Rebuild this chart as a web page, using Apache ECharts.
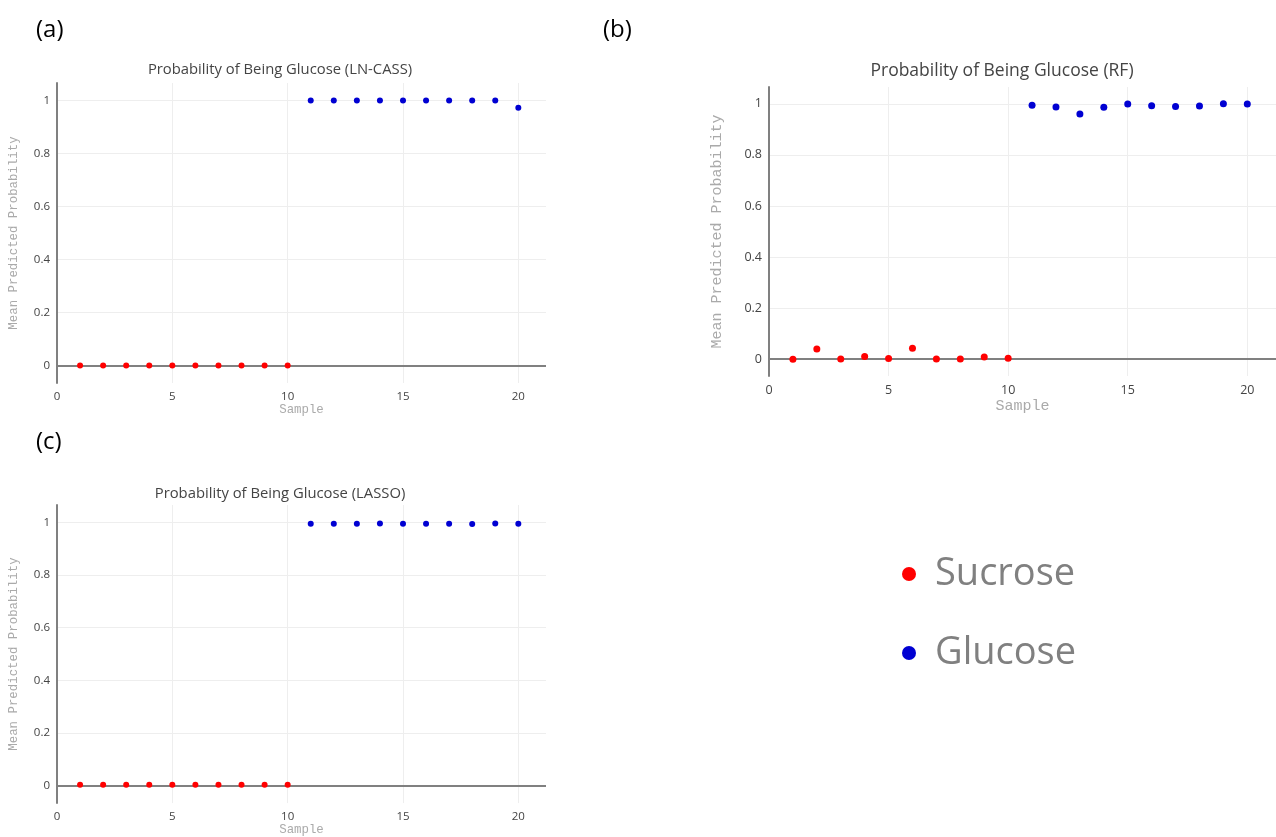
<!DOCTYPE html>
<html>
<head>
<meta charset="utf-8">
<title>Probability of Being Glucose</title>
<script src="https://cdn.jsdelivr.net/npm/echarts@6/dist/echarts.min.js"></script>
<style>
	html, body { margin: 0; padding: 0; background: #fff; }
	#main { width: 1276px; height: 837px; }
</style>
</head>
<body>
<div id="main"></div>
<script>
// sample numbers
var sucroseX = [1, 2, 3, 4, 5, 6, 7, 8, 9, 10];
var glucoseX = [11, 12, 13, 14, 15, 16, 17, 18, 19, 20];

// mean predicted probability
var lnSucrose = [0, 0, 0, 0, 0, 0, 0, 0, 0, 0];
var lnGlucose = [1, 1, 1, 1, 1, 1, 1, 1, 1, 0.973];
var rfSucrose = [0, 0.04, 0.001, 0.01, 0.003, 0.043, 0.001, 0.001, 0.008, 0.004];
var rfGlucose = [0.995, 0.988, 0.96, 0.987, 0.999, 0.993, 0.99, 0.992, 1, 0.999];
var lassoSucrose = [0.004, 0.004, 0.004, 0.004, 0.004, 0.004, 0.004, 0.004, 0.004, 0.004];
var lassoGlucose = [0.995, 0.995, 0.995, 0.996, 0.995, 0.995, 0.995, 0.994, 0.996, 0.995];

var yTicks = [0, 0.2, 0.4, 0.6, 0.8, 1];
var panelTitles = ['Probability of Being Glucose (LN-CASS)', 'Probability of Being Glucose (RF)', 'Probability of Being Glucose (LASSO)'];
var panelLabels = ['(a)', '(b)', '(c)'];
var legendNames = ['Sucrose', 'Glucose'];

var red = '#ff0000';
var blue = '#0000d2';

function pairs(xs, ys) {
	var arr = [];
	for (var i = 0; i < xs.length; i++) {
		arr.push([xs[i], ys[i]]);
	}
	return arr;
}

var grids = [
	{ left: 57, top: 83, width: 489, height: 300 },
	{ left: 769, top: 87, width: 518, height: 289 },
	{ left: 57, top: 505, width: 489, height: 301 }
];
// panel (b) was pasted in a bit bigger, so its fonts are bigger too
var look = [
	{ titleX: 275, titleY: 57, titleSize: 14.8, tick: 11.5, nameSize: 12.4, yGap: 37, xGap: 19 },
	{ titleX: 997, titleY: 57, titleSize: 17.5, tick: 12.5, nameSize: 15, yGap: 44, xGap: 23 },
	{ titleX: 275, titleY: 481, titleSize: 14.8, tick: 11.5, nameSize: 12.4, yGap: 37, xGap: 17 }
];
var labelPos = [
	{ x: 31, y: 13 },
	{ x: 598, y: 13 },
	{ x: 31, y: 425 }
];

var titles = [];
var xAxes = [];
var yAxes = [];
for (var i = 0; i < 3; i++) {
	titles.push({
		text: panelTitles[i],
		left: look[i].titleX,
		top: look[i].titleY,
		textAlign: 'center',
		textStyle: { fontFamily: 'Open Sans', fontSize: look[i].titleSize, fontWeight: 'normal', color: '#444' }
	});
	titles.push({
		text: panelLabels[i],
		left: labelPos[i].x,
		top: labelPos[i].y,
		textStyle: { fontFamily: 'Open Sans', fontSize: 24, fontWeight: 'normal', color: '#000' }
	});
	xAxes.push({
		gridIndex: i,
		type: 'value',
		min: 0,
		max: 21.2,
		interval: 5,
		name: 'Sample',
		nameLocation: 'middle',
		nameGap: look[i].xGap,
		nameTextStyle: { fontFamily: 'Liberation Mono', fontSize: look[i].nameSize, color: '#aaa' },
		axisLine: { show: false, onZero: false },
		axisTick: { show: false },
		axisLabel: { showMaxLabel: false, margin: 8, fontFamily: 'Open Sans', fontSize: look[i].tick, color: '#444' },
		splitLine: { show: true, showMaxLine: false, lineStyle: { color: '#eee', width: 1 } }
	});
	yAxes.push({
		gridIndex: i,
		type: 'value',
		min: -0.066,
		max: 1.066,
		name: 'Mean Predicted Probability',
		nameLocation: 'middle',
		nameGap: look[i].yGap,
		nameTextStyle: { fontFamily: 'Liberation Mono', fontSize: look[i].nameSize, color: '#aaa' },
		axisLine: { show: true, lineStyle: { color: '#808080', width: 2 } },
		axisTick: { show: false, customValues: yTicks },
		axisLabel: { customValues: yTicks, margin: 7, fontFamily: 'Open Sans', fontSize: look[i].tick, color: '#444' },
		splitLine: { show: true, lineStyle: { color: '#eee', width: 1 } }
	});
}

var panelData = [
	[lnSucrose, lnGlucose],
	[rfSucrose, rfGlucose],
	[lassoSucrose, lassoGlucose]
];
var series = [];
for (var j = 0; j < 3; j++) {
	series.push({
		name: 'Sucrose',
		type: 'scatter',
		xAxisIndex: j,
		yAxisIndex: j,
		symbolSize: j == 1 ? 7 : 6,
		itemStyle: { color: red, opacity: 1 },
		data: pairs(sucroseX, panelData[j][0]),
		z: 3,
		// zero line like the plotly one
		markLine: {
			silent: true,
			symbol: 'none',
			label: { show: false },
			lineStyle: { color: '#808080', width: 2, type: 'solid' },
			data: [{ yAxis: 0 }],
			z: 1
		}
	});
	series.push({
		name: 'Glucose',
		type: 'scatter',
		xAxisIndex: j,
		yAxisIndex: j,
		symbolSize: j == 1 ? 7 : 6,
		itemStyle: { color: blue, opacity: 1 },
		data: pairs(glucoseX, panelData[j][1]),
		z: 3
	});
}

var chart = echarts.init(document.getElementById('main'));
chart.setOption({
	animation: false,
	backgroundColor: '#fff',
	title: titles,
	grid: grids,
	xAxis: xAxes,
	yAxis: yAxes,
	legend: {
		data: legendNames,
		orient: 'vertical',
		left: 897,
		top: 550,
		icon: 'circle',
		itemWidth: 14,
		itemHeight: 14,
		itemGap: 41,
		itemStyle: { opacity: 1 },
		textStyle: { fontFamily: 'Open Sans', fontSize: 38, color: '#808080', padding: [0, 0, 0, 14] }
	},
	series: series
});
</script>
</body>
</html>
